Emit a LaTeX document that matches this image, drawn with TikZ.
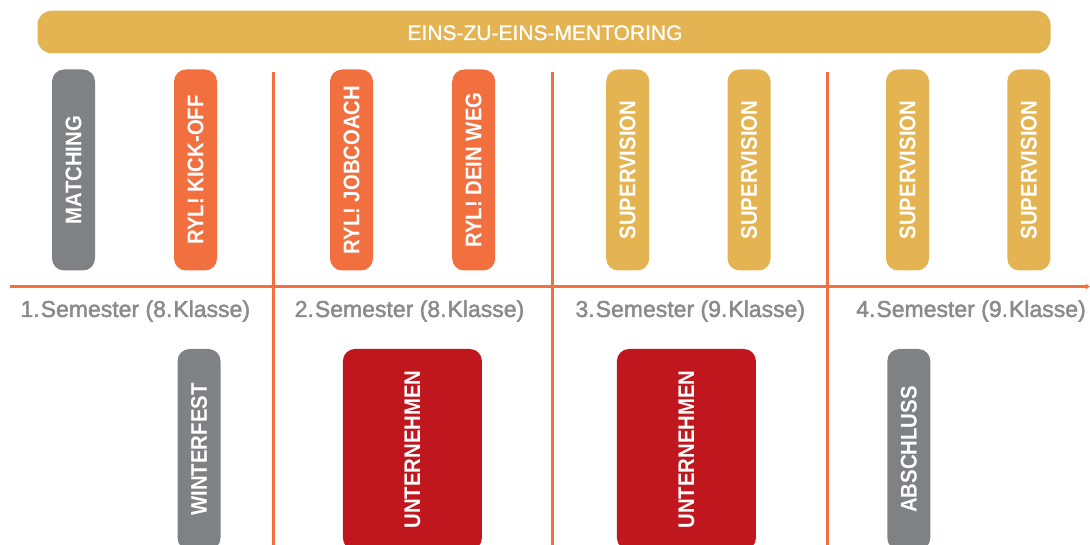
\documentclass[tikz,border=0pt]{standalone}
\usepackage{fontspec}
\setmainfont{Liberation Sans}
\newfontfamily\pillfont{Liberation Sans}[FakeStretch=0.9]
\newfontfamily\labfont{Liberation Sans}[FakeBold=2]
\newfontfamily\barfont{Liberation Sans}[FakeBold=0.8]
\usetikzlibrary{arrows.meta}
\definecolor{cgold}{HTML}{E3B451}
\definecolor{corange}{HTML}{F26F3F}
\definecolor{cgray}{HTML}{808185}
\definecolor{cred}{HTML}{C0161D}
\definecolor{clab}{HTML}{8A8B8F}
\tikzset{
  pill/.style={rectangle, rounded corners=12pt, inner sep=0pt, rotate=90,
    minimum width=201pt, minimum height=43pt, text=white,
    font=\pillfont\bfseries\fontsize{22.6}{24}\selectfont},
  widepill/.style={pill, minimum height=139pt},
  divider/.style={draw=corange, line width=3pt},
  semlabel/.style={anchor=base, text=clab, inner sep=0pt,
    font=\labfont\fontsize{23}{25}\selectfont},
}
\begin{document}
\begin{tikzpicture}[x=1pt,y=-1pt]
\useasboundingbox (0,0) rectangle (1090,545);
\clip (0,0) rectangle (1090,545);
% top bar
\node[rectangle, rounded corners=14pt, fill=cgold, minimum width=1013pt, minimum height=42.5pt, inner sep=0pt] (bar) at (544,32) {};
\node[anchor=base, text=white, inner sep=0pt, font=\barfont\fontsize{21}{23}\selectfont] (bartext) at (545,40) {EINS-ZU-EINS-MENTORING};
% dividers
\coordinate (d1t) at (273.5,72); \coordinate (d1b) at (273.5,545);
\coordinate (d2t) at (552,72); \coordinate (d2b) at (552,545);
\coordinate (d3t) at (827,72); \coordinate (d3b) at (827,545);
\draw[divider] (d1t) -- (d1b);
\draw[divider] (d2t) -- (d2b);
\draw[divider] (d3t) -- (d3b);
% axis
\coordinate (ax0) at (10,286.5);
\coordinate (ax1) at (1090,286.5);
\draw[draw=corange, line width=3pt, -{Latex[length=4pt,width=6pt]}] (ax0) -- (ax1);
% top pills
\node[pill, fill=cgray] (match) at (73.5,170) {MATCHING};
\node[pill, fill=corange] (kick) at (195.5,170) {RYL! KICK-OFF};
\node[pill, fill=corange] (job) at (351.5,170) {RYL! JOBCOACH};
\node[pill, fill=corange] (weg) at (473.7,170) {RYL! DEIN WEG};
\node[pill, fill=cgold] (sup1) at (627.7,170) {SUPERVISION};
\node[pill, fill=cgold] (sup2) at (749,170) {SUPERVISION};
\node[pill, fill=cgold] (sup3) at (907.5,170) {SUPERVISION};
\node[pill, fill=cgold] (sup4) at (1028.8,170) {SUPERVISION};
% semester labels
\node[semlabel] (s1) at (135.3,317) {1.\kern1pt Semester (8.\kern1pt Klasse)};
\node[semlabel] (s2) at (409.5,317) {2.\kern1pt Semester (8.\kern1pt Klasse)};
\node[semlabel] (s3) at (690.3,317) {3.\kern1pt Semester (9.\kern1pt Klasse)};
\node[semlabel] (s4) at (971,317) {4.\kern1pt Semester (9.\kern1pt Klasse)};
% bottom pills
\node[pill, fill=cgray] (winter) at (199,449.5) {WINTERFEST};
\node[widepill, fill=cred] (unt1) at (412.4,449.5) {UNTERNEHMEN};
\node[widepill, fill=cred] (unt2) at (686.4,449.5) {UNTERNEHMEN};
\node[pill, fill=cgray] (absch) at (908.8,449.5) {ABSCHLUSS};
\end{tikzpicture}
\end{document}
